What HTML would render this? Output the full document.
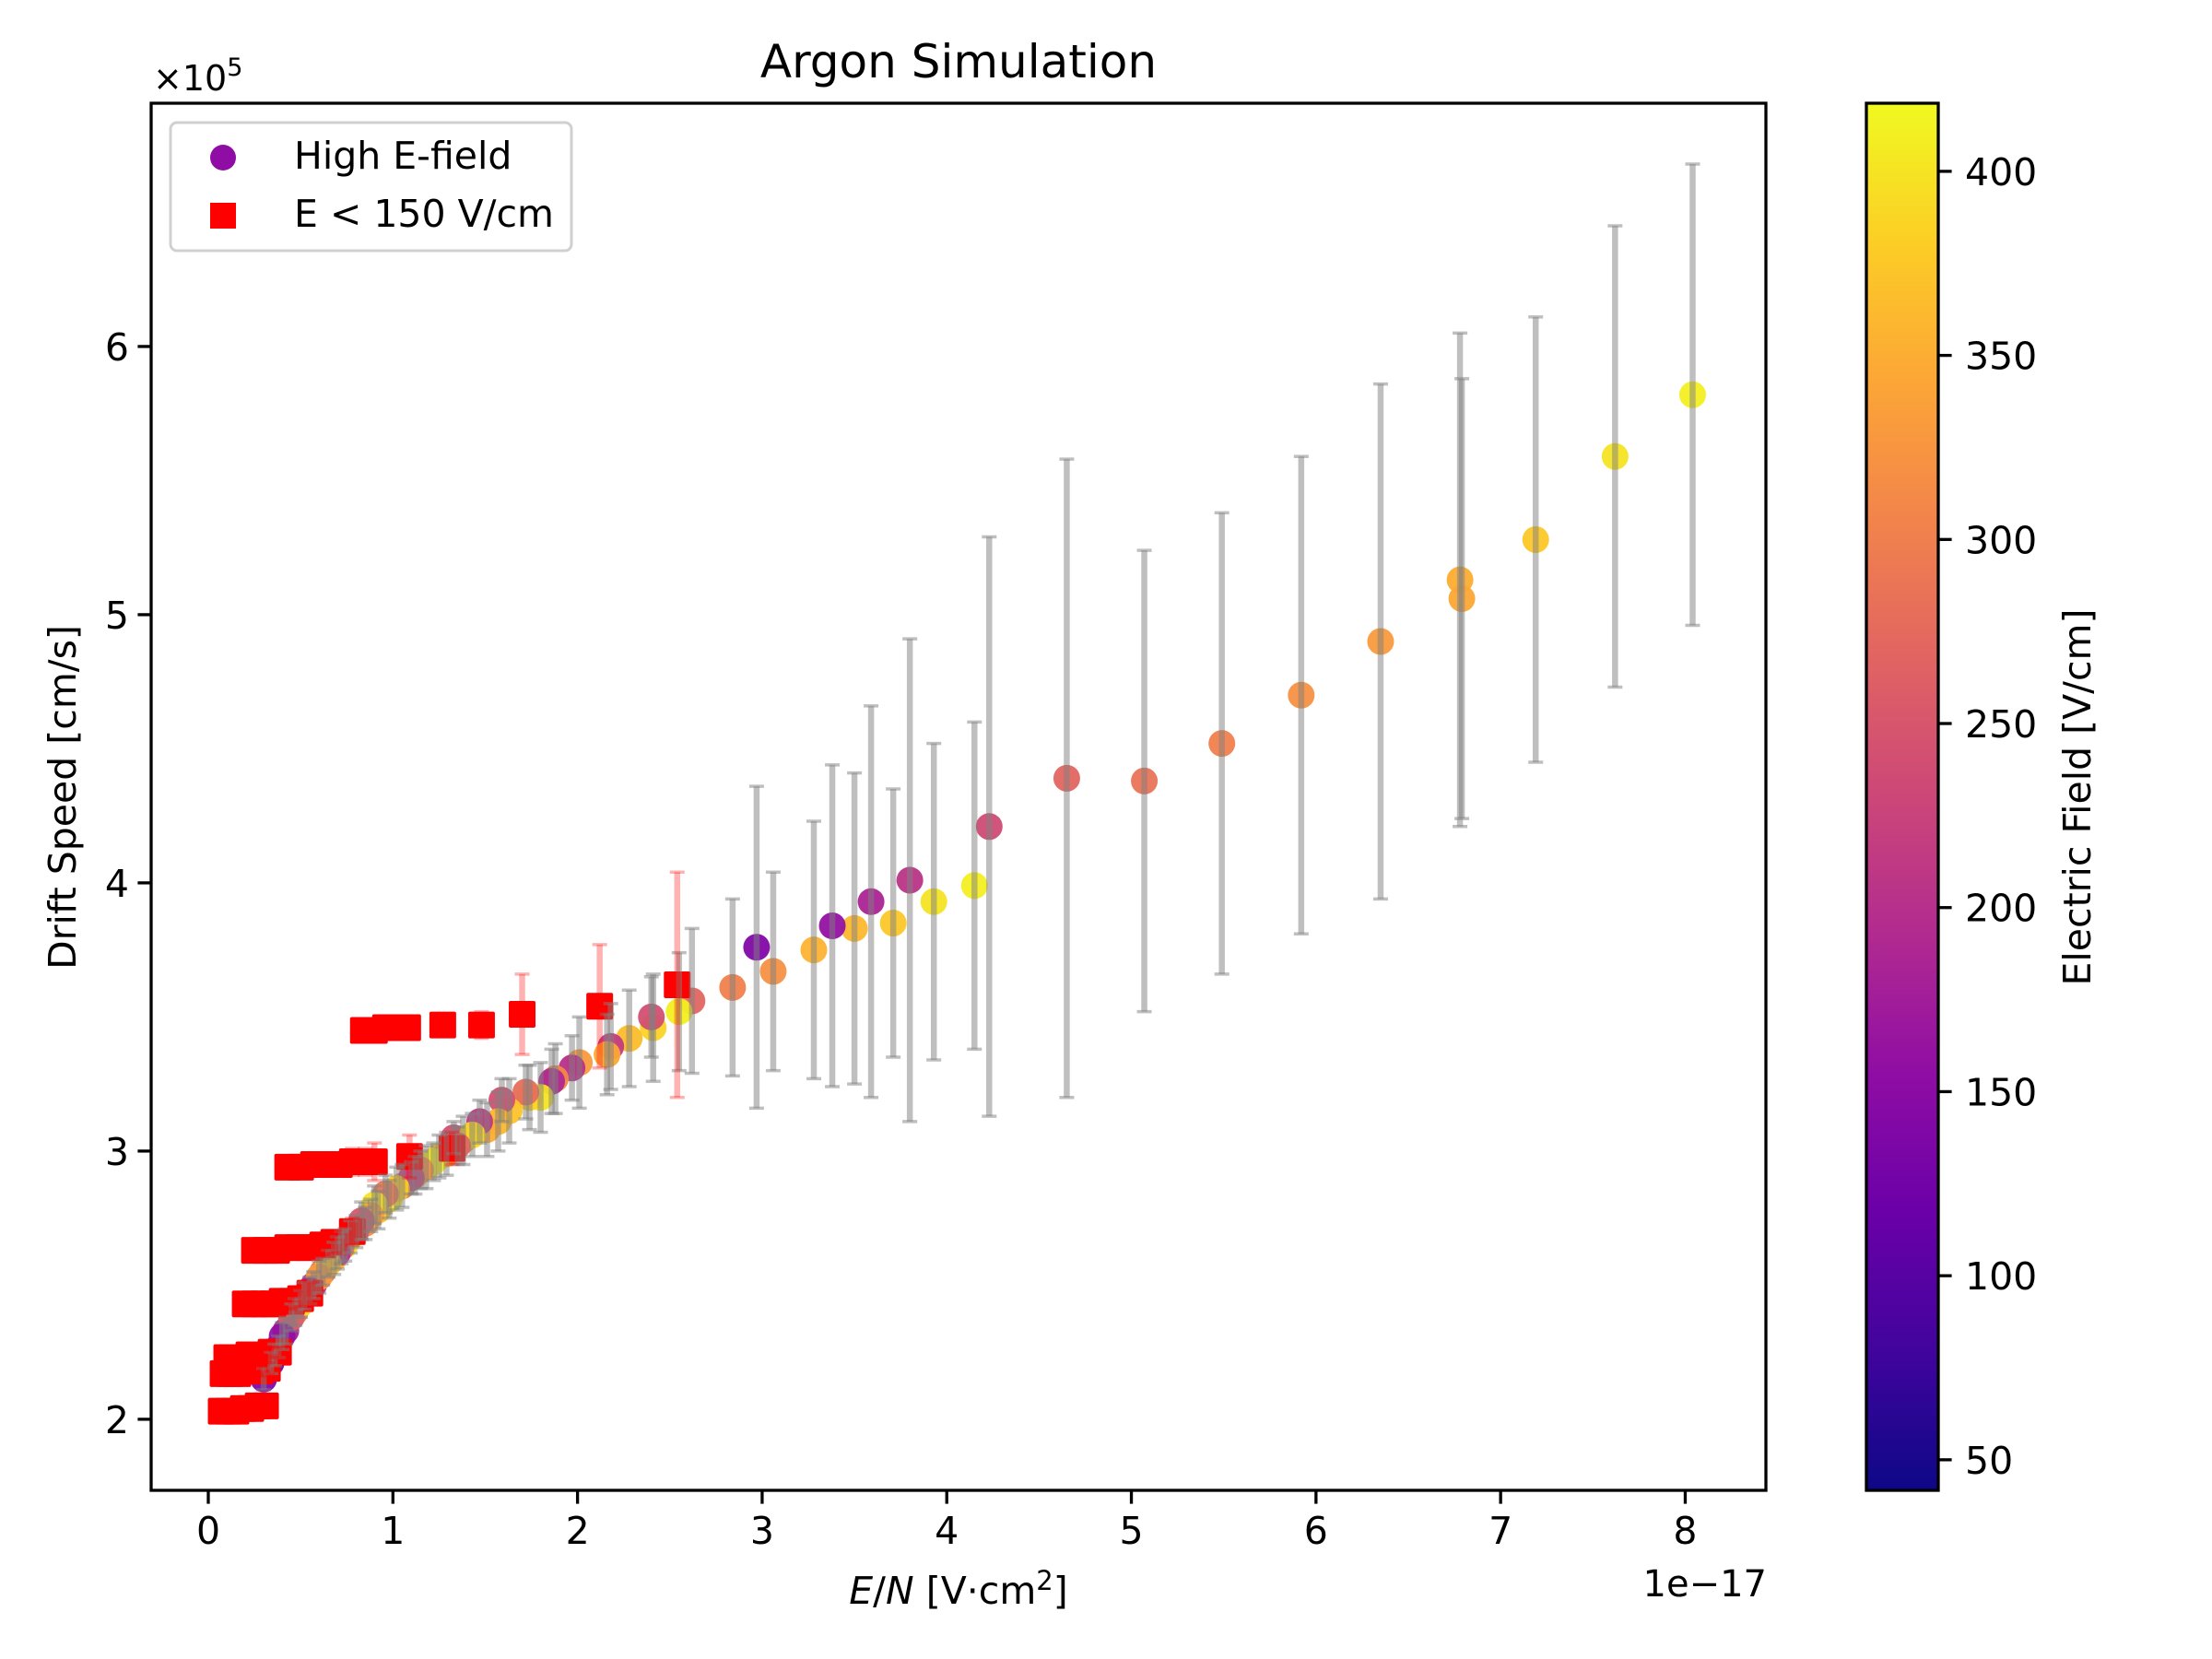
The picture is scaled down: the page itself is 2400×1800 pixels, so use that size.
<!DOCTYPE html>
<html><head><meta charset="utf-8"><style>
html,body{margin:0;padding:0;background:#fff;}
svg{display:block;font-family:"DejaVu Sans","Liberation Sans",sans-serif;}
</style></head><body>
<svg id="chart" width="2400" height="1800" viewBox="0 0 2400 1800" xmlns="http://www.w3.org/2000/svg">
<defs>
<linearGradient id="plasma" x1="0" y1="1" x2="0" y2="0">
<stop offset="0" stop-color="#0d0887"/><stop offset="0.1" stop-color="#41049d"/><stop offset="0.2" stop-color="#6a00a8"/><stop offset="0.3" stop-color="#8f0da4"/><stop offset="0.4" stop-color="#b12a90"/><stop offset="0.5" stop-color="#cc4778"/><stop offset="0.6" stop-color="#e16462"/><stop offset="0.7" stop-color="#f2844b"/><stop offset="0.8" stop-color="#fca636"/><stop offset="0.9" stop-color="#fcce25"/><stop offset="1" stop-color="#f0f921"/>
</linearGradient>
<clipPath id="plotclip"><rect x="164" y="112" width="1752" height="1505"/></clipPath>
</defs>
<text x="1040" y="84" font-size="50" text-anchor="middle">Argon Simulation</text>
<g id="plot" clip-path="url(#plotclip)"></g>
<rect x="164" y="112" width="1752" height="1505" fill="none" stroke="#000" stroke-width="3.3"/>
<g id="xticks"></g>
<g id="yticks"></g>
<text x="166" y="98" font-size="38">×10<tspan font-size="27" dy="-16">5</tspan></text>
<text x="1917" y="1732" font-size="40" text-anchor="end">1e−17</text>
<text x="1040" y="1740" font-size="41" text-anchor="middle"><tspan font-style="italic">E</tspan>/<tspan font-style="italic">N</tspan> [V·cm<tspan font-size="29" dy="-15">2</tspan><tspan dy="15">]</tspan></text>
<text transform="translate(82,865) rotate(-90)" font-size="41" text-anchor="middle">Drift Speed [cm/s]</text>
<g>
<rect x="185" y="133" width="435" height="139" rx="7" fill="#fff" fill-opacity="0.8" stroke="#d0d0d0" stroke-width="3"/>
<circle cx="242" cy="171" r="14" fill="#8f0da4"/>
<text x="319" y="183" font-size="41">High E-field</text>
<rect x="228" y="220" width="28" height="28" fill="#ff0000"/>
<text x="319" y="246" font-size="41">E &lt; 150 V/cm</text>
</g>
<rect x="2025" y="112" width="78" height="1505" fill="url(#plasma)" stroke="#000" stroke-width="3.3"/>
<g id="cticks"></g>
<text transform="translate(2268,865) rotate(-90)" font-size="41" text-anchor="middle">Electric Field [V/cm]</text>
</svg>
<script>
// High E-field series
const hiX = [8.04,7.62,7.19,6.78,6.79,6.35,5.92,5.49,5.07,4.65,4.23,4.15,3.93,3.80,3.71,3.59,3.50,3.38,3.28,3.06,2.97,2.84,2.62,2.55,2.41,2.40,2.28,2.18,2.16,2.01,1.97,1.88,1.86,1.80,1.74,1.72,1.63,1.59,1.57,1.51,1.47,1.38,1.33,1.25,1.18,1.12,1.05,0.98,0.92,0.85,0.80,0.74,0.68,0.62,0.57,0.52,0.47,0.42,0.38,0.34,0.30,
  1.43,1.35,1.29,1.22,1.15,1.10,1.02,0.96,0.90,0.88,0.83,0.77,0.72,0.70,0.65,0.60,0.55,0.50,0.45,0.40,0.36];
const hiY = [5.82,5.59,5.28,5.13,5.06,4.90,4.70,4.52,4.38,4.39,4.21,3.99,3.93,4.01,3.85,3.93,3.83,3.84,3.75,3.67,3.76,3.61,3.56,3.52,3.46,3.50,3.42,3.39,3.36,3.33,3.31,3.27,3.26,3.20,3.20,3.22,3.15,3.19,3.11,3.08,3.11,3.04,3.05,2.98,2.94,2.91,2.87,2.82,2.78,2.73,2.70,2.65,2.60,2.55,2.50,2.46,2.40,2.33,2.27,2.21,2.15,
  3.06,3.02,2.99,2.96,2.93,2.90,2.86,2.84,2.80,2.76,2.74,2.68,2.64,2.62,2.58,2.53,2.48,2.43,2.38,2.31,2.24];
const hiErr = [0.86,0.86,0.83,0.92,0.82,0.96,0.89,0.86,0.86,1.19,1.08,0.61,0.59,0.90,0.50,0.73,0.58,0.60,0.48,0.37,0.60,0.33,0.27,0.22,0.20,0.15,0.18,0.16,0.15,0.17,0.12,0.13,0.12,0.13,0.12,0.10,0.12,0.08,0.11,0.10,0.08,0.09,0.06,0.08,0.08,0.07,0.08,0.07,0.07,0.06,0.06,0.06,0.06,0.05,0.05,0.05,0.05,0.05,0.04,0.04,0.04,
  0.08,0.07,0.08,0.07,0.07,0.06,0.08,0.07,0.07,0.06,0.07,0.06,0.06,0.06,0.05,0.06,0.05,0.05,0.05,0.05,0.04];
const hiField = [410,400,375,350,345,330,320,300,285,270,235,410,400,205,375,185,360,160,355,320,140,300,270,410,385,240,365,215,345,330,200,310,190,400,385,280,370,240,360,350,210,330,240,400,380,350,300,410,370,320,260,400,350,290,200,380,300,180,150,130,140,
  390,270,350,410,320,220,380,290,400,340,250,410,300,200,370,330,170,390,260,160,120];
// Low-field (E < 150 V/cm) series
const loX = [0.07,0.11,0.15,0.19,0.23,0.27,0.31, 0.08,0.12,0.16,0.20,0.24,0.28,0.32, 0.10,0.14,0.18,0.22,0.26,0.30,0.34,0.38, 0.20,0.25,0.30,0.35,0.40,0.45,0.50,0.55, 0.25,0.31,0.37,0.43,0.49,0.55,0.62,0.68,0.78, 0.43,0.50,0.57,0.64,0.71,0.78,0.85,0.90,1.09,1.32, 0.84,0.90,0.96,1.02,1.08,1.27,1.48,1.70,2.12,2.54];
const loY = [2.03,2.03,2.03,2.04,2.04,2.05,2.05, 2.17,2.17,2.17,2.18,2.18,2.18,2.19, 2.23,2.23,2.23,2.24,2.24,2.24,2.25,2.25, 2.43,2.43,2.43,2.43,2.44,2.44,2.45,2.47, 2.63,2.63,2.63,2.64,2.64,2.64,2.65,2.66,2.70, 2.94,2.94,2.95,2.95,2.95,2.96,2.96,2.96,2.98,3.01, 3.45,3.45,3.46,3.46,3.46,3.47,3.47,3.51,3.54,3.62];
const loErr = [0.02,0.02,0.02,0.02,0.02,0.02,0.02, 0.02,0.02,0.02,0.02,0.02,0.02,0.02, 0.02,0.02,0.02,0.02,0.02,0.02,0.02,0.02, 0.03,0.03,0.03,0.03,0.03,0.03,0.03,0.04, 0.03,0.03,0.03,0.03,0.03,0.03,0.04,0.04,0.05, 0.04,0.04,0.04,0.04,0.04,0.05,0.05,0.07,0.08,0.06, 0.02,0.02,0.02,0.02,0.02,0.04,0.05,0.15,0.23,0.42];
const xTicks = [0,1,2,3,4,5,6,7,8];
const yTicks = [2,3,4,5,6];
const cTicks = [50,100,150,200,250,300,350,400];

const X0=164,X1=1916,Y0=112,Y1=1617;
const xmin=-0.3095,xmax=8.437,ymin=1.735,ymax=6.907,vmin=41.7,vmax=418.5;
const sx=v=>X0+(v-xmin)/(xmax-xmin)*(X1-X0);
const sy=v=>Y1-(v-ymin)/(ymax-ymin)*(Y1-Y0);
const sc=v=>Y1-(v-vmin)/(vmax-vmin)*(Y1-Y0);
const stops=[[13,8,135],[65,4,157],[106,0,168],[143,13,164],[177,42,144],[204,71,120],[225,100,98],[242,132,75],[252,166,54],[252,206,37],[240,249,33]];
function plasma(v){let t=Math.max(0,Math.min(1,(v-vmin)/(vmax-vmin)))*10;let i=Math.min(9,Math.floor(t)),f=t-i;const a=stops[i],b=stops[i+1];return `rgb(${a.map((c,k)=>Math.round(c+(b[k]-c)*f)).join(',')})`;}
const NS="http://www.w3.org/2000/svg";
function mk(tag,attrs,parent){const e=document.createElementNS(NS,tag);for(const k in attrs)e.setAttribute(k,attrs[k]);parent.appendChild(e);return e;}
const plot=document.getElementById('plot');

// circles
hiX.forEach((x,i)=>{
  const c=mk('circle',{cx:sx(x),cy:sy(hiY[i]),r:14.5,fill:plasma(hiField[i]),'fill-opacity':0.95},plot);
  
  
});
// squares
loX.forEach((x,i)=>{
  const r=mk('rect',{x:sx(x)-14.5,y:sy(loY[i])-14.5,width:29,height:29,rx:2,fill:'#ff0000'},plot);
  
  
});
// grey error bars (high field)
hiX.forEach((x,i)=>{
  const g=mk('g',{stroke:'#808080','stroke-opacity':0.5,'stroke-width':6.5},plot);
  
  
  const cx=sx(x),ya=sy(hiY[i]+hiErr[i]),yb=sy(hiY[i]-hiErr[i]);
  mk('line',{x1:cx,x2:cx,y1:ya,y2:yb},g);
  mk('line',{x1:cx-8,x2:cx+8,y1:ya,y2:ya,'stroke-width':3.5},g);
  mk('line',{x1:cx-8,x2:cx+8,y1:yb,y2:yb,'stroke-width':3.5},g);
});
// red error bars
loX.forEach((x,i)=>{
  const g=mk('g',{stroke:'#ff0000','stroke-opacity':0.3,'stroke-width':6.5},plot);
  
  
  const cx=sx(x),ya=sy(loY[i]+loErr[i]),yb=sy(loY[i]-loErr[i]);
  mk('line',{x1:cx,x2:cx,y1:ya,y2:yb},g);
  mk('line',{x1:cx-8,x2:cx+8,y1:ya,y2:ya,'stroke-width':3.5},g);
  mk('line',{x1:cx-8,x2:cx+8,y1:yb,y2:yb,'stroke-width':3.5},g);
});
// axes ticks
const xg=document.getElementById('xticks');
xTicks.forEach(t=>{
  const l=mk('line',{x1:sx(t),x2:sx(t),y1:Y1,y2:Y1+14.6,stroke:'#000','stroke-width':3.3},xg);
  
  
  const tx=mk('text',{x:sx(t),y:Y1+58,'font-size':41,'text-anchor':'middle'},xg);
  
  
  tx.textContent=t;
});
const yg=document.getElementById('yticks');
yTicks.forEach(t=>{
  const l=mk('line',{x1:X0-14.6,x2:X0,y1:sy(t),y2:sy(t),stroke:'#000','stroke-width':3.3},yg);
  
  
  const tx=mk('text',{x:X0-24,y:sy(t)+15,'font-size':41,'text-anchor':'end'},yg);
  
  
  tx.textContent=t;
});
const cg=document.getElementById('cticks');
cTicks.forEach(t=>{
  const l=mk('line',{x1:2103,x2:2117.6,y1:sc(t),y2:sc(t),stroke:'#000','stroke-width':3.3},cg);
  
  
  const tx=mk('text',{x:2132,y:sc(t)+15,'font-size':41},cg);
  
  
  tx.textContent=t;
});
</script>
</body></html>
